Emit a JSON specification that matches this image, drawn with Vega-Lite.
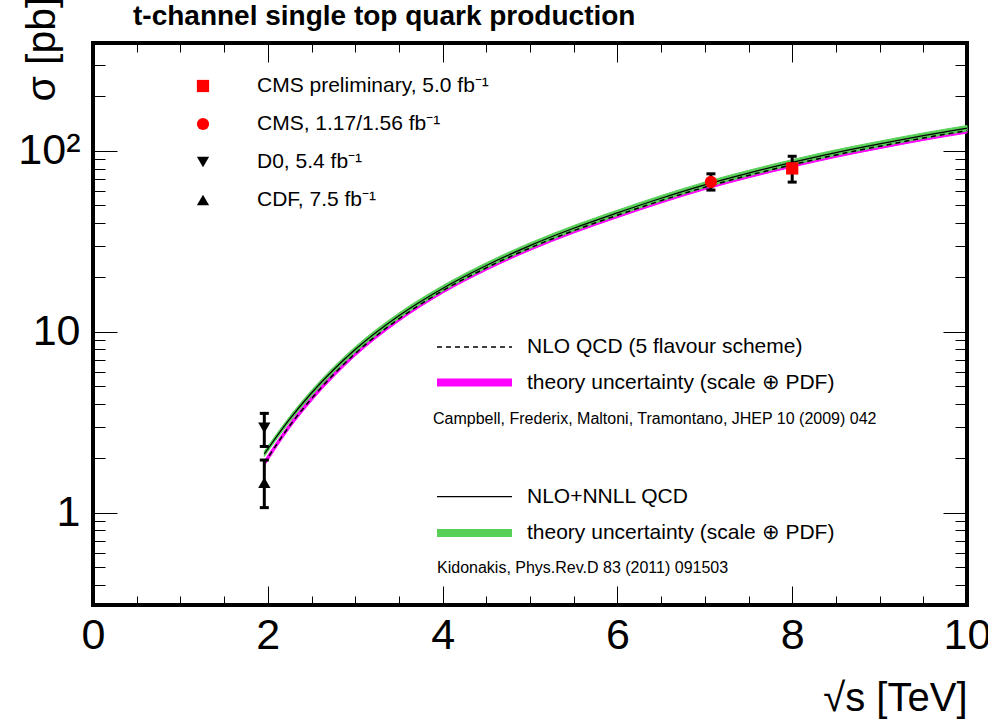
{
  "$schema": "https://vega.github.io/schema/vega-lite/v6.json",
  "width": 874,
  "height": 562,
  "autosize": {"type": "none"},
  "padding": {"left": 93, "top": 43, "right": 21, "bottom": 114},
  "background": "white",
  "title": {"text": "t-channel single top quark production", "anchor": "start", "frame": "group", "dx": 40, "offset": -57, "baseline": "alphabetic", "font": "Liberation Sans", "fontSize": 28, "fontWeight": "bold", "color": "black"},
  "config": {
    "font": "Liberation Sans",
    "view": {"stroke": "black", "strokeWidth": 4},
    "axis": {"grid": false, "domain": false, "tickColor": "black", "tickWidth": 1, "labelColor": "black", "titleColor": "black", "labelFont": "Liberation Sans", "titleFont": "Liberation Sans", "titleFontWeight": "normal", "labelFlush": false, "labelOverlap": false},
    "legend": {"labelFont": "Liberation Sans", "titleFont": "Liberation Sans", "labelColor": "black", "titleColor": "black", "labelLimit": 700, "titleLimit": 700, "padding": 0, "direction": "vertical"}
  },
  "datasets": {
    "curves": [
      {"s": 1.96, "nnll": 2.12, "nnllLo": 2.05, "nnllHi": 2.19, "nlo": 1.88, "nloLo": 1.82, "nloHi": 1.94},
      {"s": 2.25, "nnll": 3.3, "nnllLo": 3.19, "nnllHi": 3.41, "nlo": 3.03, "nloLo": 2.94, "nloHi": 3.12},
      {"s": 2.5, "nnll": 4.6, "nnllLo": 4.44, "nnllHi": 4.76, "nlo": 4.28, "nloLo": 4.15, "nloHi": 4.41},
      {"s": 3, "nnll": 8.0, "nnllLo": 7.72, "nnllHi": 8.28, "nlo": 7.6, "nloLo": 7.37, "nloHi": 7.83},
      {"s": 3.5, "nnll": 12.3, "nnllLo": 11.87, "nnllHi": 12.73, "nlo": 11.81, "nloLo": 11.46, "nloHi": 12.16},
      {"s": 4, "nnll": 17.4, "nnllLo": 16.79, "nnllHi": 18.01, "nlo": 16.88, "nloLo": 16.37, "nloHi": 17.39},
      {"s": 4.5, "nnll": 23.3, "nnllLo": 22.48, "nnllHi": 24.12, "nlo": 22.6, "nloLo": 21.92, "nloHi": 23.28},
      {"s": 5, "nnll": 30.0, "nnllLo": 28.95, "nnllHi": 31.05, "nlo": 29.1, "nloLo": 28.23, "nloHi": 29.97},
      {"s": 5.5, "nnll": 37.4, "nnllLo": 36.09, "nnllHi": 38.71, "nlo": 36.28, "nloLo": 35.19, "nloHi": 37.37},
      {"s": 6, "nnll": 45.5, "nnllLo": 43.91, "nnllHi": 47.09, "nlo": 44.14, "nloLo": 42.82, "nloHi": 45.46},
      {"s": 6.5, "nnll": 54.8, "nnllLo": 52.88, "nnllHi": 56.72, "nlo": 53.16, "nloLo": 51.57, "nloHi": 54.75},
      {"s": 7, "nnll": 65.0, "nnllLo": 62.73, "nnllHi": 67.28, "nlo": 63.05, "nloLo": 61.16, "nloHi": 64.94},
      {"s": 7.5, "nnll": 75.5, "nnllLo": 72.86, "nnllHi": 78.14, "nlo": 73.24, "nloLo": 71.04, "nloHi": 75.44},
      {"s": 8, "nnll": 86.5, "nnllLo": 83.47, "nnllHi": 89.53, "nlo": 83.9, "nloLo": 81.38, "nloHi": 86.42},
      {"s": 8.5, "nnll": 98.0, "nnllLo": 94.57, "nnllHi": 101.43, "nlo": 95.06, "nloLo": 92.21, "nloHi": 97.91},
      {"s": 9, "nnll": 109.5, "nnllLo": 105.67, "nnllHi": 113.33, "nlo": 106.2, "nloLo": 103.0, "nloHi": 109.4},
      {"s": 9.5, "nnll": 121.5, "nnllLo": 117.25, "nnllHi": 125.75, "nlo": 117.9, "nloLo": 114.4, "nloHi": 121.4},
      {"s": 10, "nnll": 133.5, "nnllLo": 128.8, "nnllHi": 138.2, "nlo": 129.5, "nloLo": 125.6, "nloHi": 133.4}
    ],
    "meas": [
      {"exp": "CMS preliminary, 5.0 fb⁻¹", "s": 8, "xsec": 80.1, "lo": 67.3, "hi": 93.5},
      {"exp": "CMS, 1.17/1.56 fb⁻¹", "s": 7.07, "xsec": 67.5, "lo": 60.8, "hi": 74.8},
      {"exp": "D0, 5.4 fb⁻¹", "s": 1.96, "xsec": 2.95, "lo": 2.33, "hi": 3.55},
      {"exp": "CDF, 7.5 fb⁻¹", "s": 1.96, "xsec": 1.47, "lo": 1.07, "hi": 1.96}
    ]
  },
  "layer": [
    {
      "data": {"name": "curves"},
      "mark": {"type": "area", "fill": "#ff00ff", "opacity": 1, "interpolate": "monotone"},
      "encoding": {
        "x": {"field": "s", "type": "quantitative", "scale": {"domain": [0, 10], "nice": false, "zero": false},
          "axis": {"orient": "bottom", "values": [0, 2, 4, 6, 8, 10], "tickSize": -19, "labelFontSize": 43, "labelPadding": 62, "labelBaseline": "alphabetic", "format": "d",
            "title": "√s [TeV]", "titleFontSize": 40, "titleAnchor": "end", "titleAlign": "right", "titleX": 874, "titleY": 105, "titleBaseline": "alphabetic"}},
        "y": {"field": "nloLo", "type": "quantitative", "scale": {"type": "log", "domain": [0.31, 395], "nice": false},
          "axis": {"orient": "left", "values": [1, 10, 100], "tickSize": -24, "labelFontSize": 43, "labelPadding": 37, "labelExpr": "datum.value >= 100 ? '10²' : datum.value >= 10 ? '10' : '1'",
            "title": "σ [pb]", "titleFontSize": 41, "titleAnchor": "end", "titleAlign": "right", "titleAngle": -90, "titleX": -39, "titleY": -47, "titleBaseline": "alphabetic"}},
        "y2": {"field": "nloHi"},
        "stroke": {"datum": "theory uncertainty (scale ⊕ PDF)", "type": "nominal",
          "scale": {"domain": ["theory uncertainty (scale ⊕ PDF)"], "range": ["#ff00ff"]},
          "legend": {"orient": "none", "legendX": 340, "legendY": 329,
            "title": "Campbell, Frederix, Maltoni, Tramontano, JHEP 10 (2009) 042", "titleOrient": "bottom", "titleAnchor": "start", "titleFontSize": 16, "titleFontWeight": "normal", "titlePadding": 18,
            "symbolType": "stroke", "symbolSize": 5625, "symbolStrokeWidth": 8, "symbolStrokeColor": "#ff00ff", "clipHeight": 21, "labelFontSize": 21, "labelOffset": 11}}
      }
    },
    {
      "data": {"name": "curves"},
      "mark": {"type": "area", "fill": "#58d058", "stroke": "#58d058", "opacity": 1, "interpolate": "monotone"},
      "encoding": {
        "x": {"field": "s", "type": "quantitative", "axis": {"orient": "bottom", "values": [0.5, 1, 1.5, 2.5, 3, 3.5, 4.5, 5, 5.5, 6.5, 7, 7.5, 8.5, 9, 9.5], "tickSize": -9, "labels": false, "title": null}},
        "y": {"field": "nnllLo", "type": "quantitative", "scale": {"type": "log", "domain": [0.31, 395], "nice": false},
          "axis": {"orient": "left", "values": [0.4, 0.5, 0.6, 0.7, 0.8, 0.9, 2, 3, 4, 5, 6, 7, 8, 9, 20, 30, 40, 50, 60, 70, 80, 90, 200, 300], "tickSize": -12, "labels": false, "title": null}},
        "y2": {"field": "nnllHi"},
        "opacity": {"datum": "theory\u00a0uncertainty (scale ⊕ PDF)", "type": "nominal",
          "scale": {"domain": ["theory\u00a0uncertainty (scale ⊕ PDF)"], "range": [1]},
          "legend": {"orient": "none", "legendX": 344, "legendY": 479.5,
            "title": "Kidonakis, Phys.Rev.D 83 (2011) 091503", "titleOrient": "bottom", "titleAnchor": "start", "titleFontSize": 16, "titleFontWeight": "normal", "titlePadding": 16,
            "symbolType": "M-1,-0.107H1V0.107H-1Z", "symbolSize": 5625, "symbolStrokeWidth": 0, "symbolFillColor": "#58d058", "clipHeight": 21, "labelFontSize": 21, "labelOffset": 15}}
      }
    },
    {
      "data": {"name": "curves"},
      "mark": {"type": "line", "strokeWidth": 1.2, "interpolate": "monotone"},
      "encoding": {
        "x": {"field": "s", "type": "quantitative", "axis": {"orient": "top", "values": [0, 2, 4, 6, 8, 10], "tickSize": -19, "labels": false, "title": null}},
        "y": {"field": "nnll", "type": "quantitative", "scale": {"type": "log", "domain": [0.31, 395], "nice": false},
          "axis": {"orient": "right", "values": [1, 10, 100], "tickSize": -24, "labels": false, "title": null}},
        "color": {"datum": "NLO+NNLL QCD", "type": "nominal",
          "scale": {"domain": ["NLO+NNLL QCD"], "range": ["black"]},
          "legend": {"orient": "none", "legendX": 343, "legendY": 443.2, "title": null,
            "symbolType": "stroke", "symbolSize": 5625, "symbolStrokeWidth": 1.2, "symbolStrokeColor": "black", "clipHeight": 21, "labelFontSize": 21, "labelOffset": 14}}
      }
    },
    {
      "data": {"name": "curves"},
      "mark": {"type": "line", "color": "black", "strokeWidth": 1.5, "interpolate": "monotone"},
      "encoding": {
        "x": {"field": "s", "type": "quantitative", "axis": {"orient": "top", "values": [0.5, 1, 1.5, 2.5, 3, 3.5, 4.5, 5, 5.5, 6.5, 7, 7.5, 8.5, 9, 9.5], "tickSize": -9, "labels": false, "title": null}},
        "y": {"field": "nlo", "type": "quantitative", "scale": {"type": "log", "domain": [0.31, 395], "nice": false},
          "axis": {"orient": "right", "values": [0.4, 0.5, 0.6, 0.7, 0.8, 0.9, 2, 3, 4, 5, 6, 7, 8, 9, 20, 30, 40, 50, 60, 70, 80, 90, 200, 300], "tickSize": -12, "labels": false, "title": null}},
        "strokeDash": {"datum": "NLO QCD (5 flavour scheme)", "type": "nominal",
          "scale": {"domain": ["NLO QCD (5 flavour scheme)"], "range": [[5, 4]]},
          "legend": {"orient": "none", "legendX": 343, "legendY": 293.5, "title": null,
            "symbolType": "stroke", "symbolSize": 5625, "symbolStrokeWidth": 1.5, "symbolStrokeColor": "black", "clipHeight": 21, "labelFontSize": 21, "labelOffset": 14}}
      }
    },
    {
      "data": {"name": "meas"},
      "mark": {"type": "rule", "strokeWidth": 3, "color": "black"},
      "encoding": {
        "x": {"field": "s", "type": "quantitative", "axis": null},
        "y": {"field": "lo", "type": "quantitative", "scale": {"type": "log", "domain": [0.31, 395], "nice": false}, "axis": null},
        "y2": {"field": "hi"}
      }
    },
    {
      "data": {"name": "meas"},
      "mark": {"type": "tick", "orient": "horizontal", "size": 9, "thickness": 3, "color": "black", "opacity": 1},
      "encoding": {
        "x": {"field": "s", "type": "quantitative", "axis": null},
        "y": {"field": "lo", "type": "quantitative", "scale": {"type": "log", "domain": [0.31, 395], "nice": false}, "axis": null}
      }
    },
    {
      "data": {"name": "meas"},
      "mark": {"type": "tick", "orient": "horizontal", "size": 9, "thickness": 3, "color": "black", "opacity": 1},
      "encoding": {
        "x": {"field": "s", "type": "quantitative", "axis": null},
        "y": {"field": "hi", "type": "quantitative", "scale": {"type": "log", "domain": [0.31, 395], "nice": false}, "axis": null}
      }
    },
    {
      "data": {"name": "meas"},
      "mark": {"type": "point", "filled": true, "size": 150, "opacity": 1, "strokeWidth": 0},
      "encoding": {
        "x": {"field": "s", "type": "quantitative", "axis": null},
        "y": {"field": "xsec", "type": "quantitative", "scale": {"type": "log", "domain": [0.31, 395], "nice": false}, "axis": null},
        "shape": {"field": "exp", "type": "nominal",
          "scale": {"domain": ["CMS preliminary, 5.0 fb⁻¹", "CMS, 1.17/1.56 fb⁻¹", "D0, 5.4 fb⁻¹", "CDF, 7.5 fb⁻¹"], "range": ["square", "circle", "triangle-down", "triangle-up"]},
          "legend": {"orient": "none", "legendX": 99.5, "legendY": 32.5, "title": null, "symbolSize": 150, "labelFontSize": 21, "labelOffset": 43.5, "rowPadding": 16}},
        "fill": {"field": "exp", "type": "nominal",
          "scale": {"domain": ["CMS preliminary, 5.0 fb⁻¹", "CMS, 1.17/1.56 fb⁻¹", "D0, 5.4 fb⁻¹", "CDF, 7.5 fb⁻¹"], "range": ["#ff0000", "#ff0000", "#000000", "#000000"]},
          "legend": null}
      }
    }
  ],
  "resolve": {"axis": {"x": "independent", "y": "independent"}}
}
